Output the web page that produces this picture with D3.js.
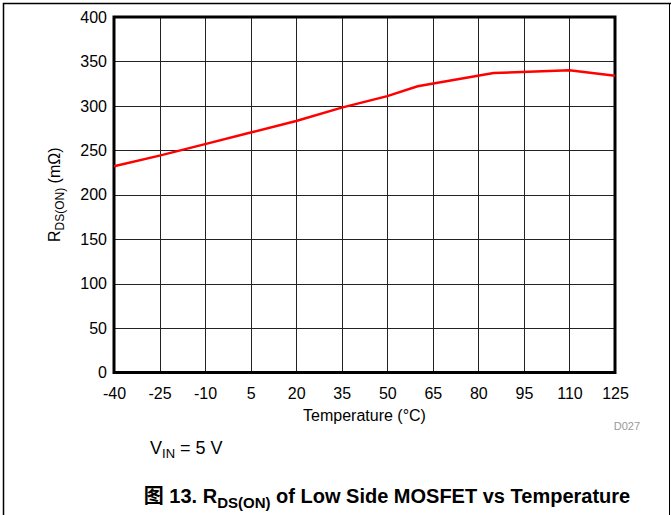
<!DOCTYPE html>
<html>
<head>
<meta charset="utf-8">
<script src="https://cdn.jsdelivr.net/npm/d3@7"></script>
<style>
  body { margin: 0; background: #fff; }
  svg text { font-family: "Liberation Sans", Arial, sans-serif; }
</style>
</head>
<body>
<div class="grafica"></div>
<script>
// datos
const temperaturas = [-40, -25, -10, 5, 20, 35, 50, 60, 85, 110, 125];
const rdsOn = [232, 244, 257, 270, 283, 298, 311, 322, 337, 340, 334];
const ticksX = [-40, -25, -10, 5, 20, 35, 50, 65, 80, 95, 110, 125];
const ticksY = [0, 50, 100, 150, 200, 250, 300, 350, 400];

const ancho = 671, alto = 515;
const izq = 114, der = 615, arriba = 17, abajo = 372.5;

const svg = d3.select('.grafica').append('svg')
    .attr('width', ancho)
    .attr('height', alto);

// marco exterior
svg.append('path')
    .attr('d', 'M3.5,' + alto + 'V3.5H' + ancho)
    .attr('fill', 'none').attr('stroke', '#000').attr('stroke-width', 1.5);
svg.append('line')
    .attr('x1', 669.5).attr('x2', 669.5).attr('y1', 3.5).attr('y2', alto)
    .attr('stroke', '#000').attr('stroke-width', 1);

const x = d3.scaleLinear().domain([-40, 125]).range([izq, der]);
const y = d3.scaleLinear().domain([0, 400]).range([abajo, arriba]);

// rejilla
svg.append('g')
    .selectAll('line')
    .data(ticksX)
    .enter().append('line')
    .attr('x1', d => Math.round(x(d)) + 0.5).attr('x2', d => Math.round(x(d)) + 0.5)
    .attr('y1', arriba).attr('y2', abajo)
    .attr('stroke', '#222').attr('stroke-width', 1);

svg.append('g')
    .selectAll('line')
    .data(ticksY)
    .enter().append('line')
    .attr('x1', izq).attr('x2', der)
    .attr('y1', d => Math.round(y(d)) + 0.5).attr('y2', d => Math.round(y(d)) + 0.5)
    .attr('stroke', '#222').attr('stroke-width', 1);

// ejes
const ejeX = svg.append('g')
    .attr('transform', 'translate(0,' + (abajo + 15) + ')')
    .call(d3.axisBottom(x).tickValues(ticksX).tickSize(0).tickPadding(0).tickFormat(d => String(d)));
ejeX.select('.domain').remove();
ejeX.selectAll('text').attr('font-size', 16).attr('fill', '#000')
    .attr('font-family', '"Liberation Sans", Arial, sans-serif');

const ejeY = svg.append('g')
    .attr('transform', 'translate(' + (izq - 7) + ',0)')
    .call(d3.axisLeft(y).tickValues(ticksY).tickSize(0).tickPadding(0).tickFormat(d => String(d)));
ejeY.select('.domain').remove();
ejeY.selectAll('text').attr('font-size', 16).attr('fill', '#000')
    .attr('font-family', '"Liberation Sans", Arial, sans-serif');

// borde del area
svg.append('rect')
    .attr('x', izq).attr('y', arriba)
    .attr('width', der - izq).attr('height', abajo - arriba)
    .attr('fill', 'none').attr('stroke', '#000').attr('stroke-width', 3);

// curva
const linea = d3.line()
    .x((d, i) => x(temperaturas[i]))
    .y(d => y(d));

svg.append('path')
    .datum(rdsOn)
    .attr('d', linea)
    .attr('fill', 'none')
    .attr('stroke', '#ff0000')
    .attr('stroke-width', 2.5);

// titulos
svg.append('text')
    .attr('x', (izq + der) / 2).attr('y', 421)
    .attr('text-anchor', 'middle').attr('font-size', 16)
    .text('Temperature (°C)');

const tituloY = svg.append('text')
    .attr('transform', 'translate(60,' + ((arriba + abajo) / 2) + ') rotate(-90)')
    .attr('text-anchor', 'middle').attr('font-size', 16);
tituloY.append('tspan').text('R');
tituloY.append('tspan').attr('font-size', 12).attr('dy', 4).text('DS(ON)');
tituloY.append('tspan').attr('dy', -4).text(' (mΩ)');

svg.append('text')
    .attr('x', 640).attr('y', 430)
    .attr('text-anchor', 'end').attr('font-size', 11).attr('fill', '#999')
    .text('D027');

const vin = svg.append('text')
    .attr('x', 150).attr('y', 454).attr('font-size', 18);
vin.append('tspan').text('V');
vin.append('tspan').attr('font-size', 13).attr('dy', 4).text('IN');
vin.append('tspan').attr('dy', -4).text(' = 5 V');

const cap = svg.append('text')
    .attr('x', 387).attr('y', 503)
    .attr('text-anchor', 'middle').attr('font-size', 20).attr('font-weight', 'bold');
cap.append('tspan').attr('font-family', '"Noto Sans CJK SC", sans-serif').text('图');
cap.append('tspan').text(' 13. R');
cap.append('tspan').attr('font-size', 15).attr('dy', 5).text('DS(ON)');
cap.append('tspan').attr('dy', -5).text(' of Low Side MOSFET vs Temperature');
</script>
</body>
</html>
